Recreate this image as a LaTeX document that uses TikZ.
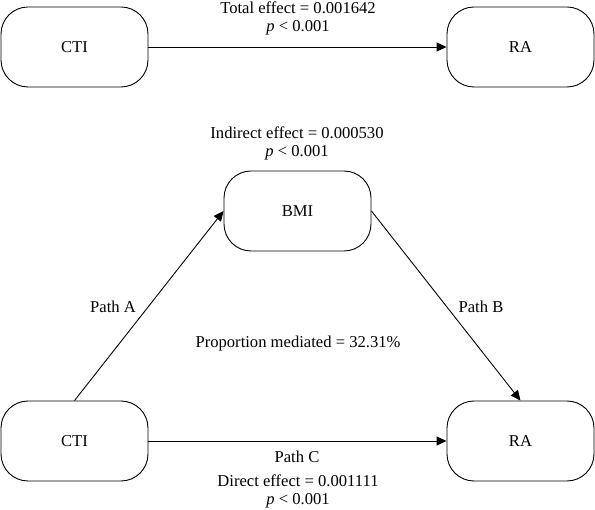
\documentclass[tikz,border=0pt]{standalone}
\usepackage{fontspec}
\setmainfont{Liberation Serif}
\usetikzlibrary{arrows.meta}
\begin{document}
\begin{tikzpicture}[x=1pt,y=-1pt,
  box/.style={draw, line width=0.9pt, rounded corners=27pt, minimum width=147pt, minimum height=80pt, inner sep=0pt, font=\fontsize{16.6}{19}\selectfont},
  lbl/.style={inner sep=0pt, font=\fontsize{16.6}{19}\selectfont},
  arr/.style={line width=0.9pt, -{Triangle[length=10pt,width=9pt]}},
  ln/.style={line width=0.9pt}]
\useasboundingbox (0,0) rectangle (595,510);
% top row
\node[box] (cti1) at (74.5,47) {CTI};
\node[box] (ra1) at (520.5,47) {RA};
\draw[arr] (cti1) -- (ra1);
\node[lbl] (tot) at (298,8) {Total effect = 0.001642};
\node[lbl] (p1) at (298,28) {\textit{p} < 0.001};
% mediation
\node[box] (bmi) at (297.5,211) {BMI};
\node[box] (cti2) at (74.5,441) {CTI};
\node[box] (ra2) at (520.5,441) {RA};
\draw[arr] (cti2.north) -- (bmi.west);
\draw[arr] (bmi.east) -- (ra2.north);
\draw[arr] (cti2) -- (ra2);
\node[lbl] (ind) at (297,133) {Indirect effect = 0.000530};
\node[lbl] (p2) at (297,153) {\textit{p} < 0.001};
\node[lbl] (pa) at (113,307) {Path A};
\node[lbl] (pb) at (481,307) {Path B};
\node[lbl] (prop) at (298,344) {Proportion mediated = 32.31\%};
\node[lbl] (pc) at (297,457) {Path C};
\node[lbl] (dir) at (298,481) {Direct effect = 0.001111};
\node[lbl] (p3) at (298,501) {\textit{p} < 0.001};
\end{tikzpicture}
\end{document}
